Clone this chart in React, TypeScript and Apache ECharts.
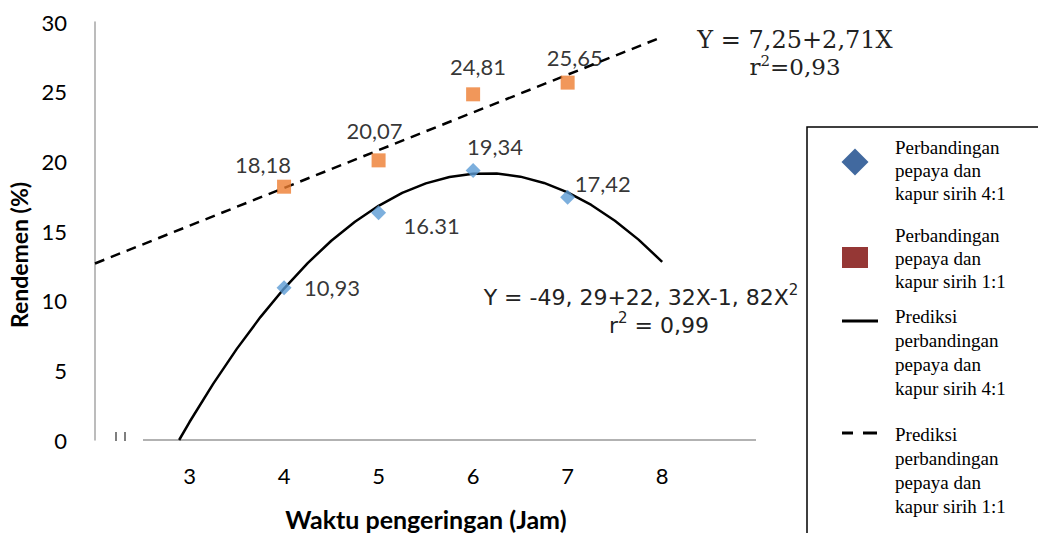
import React, { useEffect, useRef } from "react";
import * as echarts from "echarts";

// Observed data (Waktu pengeringan in hours vs Rendemen %)
const xValues = [4, 5, 6, 7];
const seriesA = [10.93, 16.31, 19.34, 17.42]; // pepaya : kapur sirih 4:1
const seriesB = [18.18, 20.07, 24.81, 25.65]; // pepaya : kapur sirih 1:1
const labelsA = ["10,93", "16.31", "19,34", "17,42"];
const labelsB = ["18,18", "20,07", "24,81", "25,65"];

// Prediction curves
const curveX = [2.89, 3, 3.25, 3.5, 3.75, 4, 4.25, 4.5, 4.75, 5, 5.25, 5.5, 5.75, 6, 6.25, 6.5, 6.75, 7, 7.25, 7.5, 7.75, 8];
const curveY = [0, 1.29, 4.03, 6.54, 8.82, 10.87, 12.7, 14.3, 15.67, 16.81, 17.73, 18.42, 18.88, 19.11, 19.12, 18.9, 18.45, 17.77, 16.87, 15.74, 14.38, 12.79];
const lineX = [2, 8];
const lineY = [12.67, 28.93];

// Tick labels
const xTickLabels = ["3", "4", "5", "6", "7", "8"];
const yTickLabels = ["0", "5", "10", "15", "20", "25", "30"];

// Label offsets (styling, relative to each marker centre)
const offsetsA = [[48, 0], [53, 13], [22, -24], [35, -14]];
const offsetsB = [[-21, -22], [-4, -30], [5, -28], [7, -25]];

const SANS = "Lato, 'Open Sans', sans-serif";
const SERIF = "'Liberation Serif', 'Times New Roman', serif";

export default function App() {
  const ref = useRef<HTMLDivElement>(null);

  useEffect(() => {
    if (!ref.current) return;
    const chart = echarts.init(ref.current, undefined, { renderer: "svg" });

    const dataA = xValues.map((x, i) => ({
      value: [x, seriesA[i]],
      label: { offset: offsetsA[i], formatter: labelsA[i] },
    }));
    const dataB = xValues.map((x, i) => ({
      value: [x, seriesB[i]],
      label: { offset: offsetsB[i], formatter: labelsB[i] },
    }));

    const legendText = (x: number, y: number, lines: string[], gap: number) =>
      lines.map((t, i) => ({
        type: "text",
        x,
        y: y + i * gap,
        z: 2,
        style: {
          text: t,
          fill: "#000",
          font: `19px ${SERIF}`,
          verticalAlign: "middle",
          align: "left",
        },
        silent: true,
      }));

    const option: any = {
      animation: false,
      backgroundColor: "#fff",
      grid: { left: 95, right: 281.3, top: 22, bottom: 93, containLabel: false, outerBoundsMode: "none" },
      xAxis: {
        type: "value",
        min: 2,
        max: 9,
        interval: 1,
        axisLine: { show: false },
        axisTick: { show: false },
        splitLine: { show: false },
        axisLabel: {
          margin: 24,
          color: "#000",
          fontFamily: SANS,
          fontSize: 22,
          formatter: (v: number) => (xTickLabels.includes(String(v)) ? String(v) : ""),
        },
        name: "Waktu pengeringan (Jam)",
        nameLocation: "middle",
        nameGap: 66,
        nameTextStyle: { color: "#000", fontFamily: SANS, fontSize: 25, fontWeight: "bold" },
      },
      yAxis: {
        type: "value",
        min: 0,
        max: 30,
        interval: 5,
        axisLine: { show: true, lineStyle: { color: "#a6a6a6", width: 1.5 } },
        axisTick: { show: false },
        splitLine: { show: false },
        axisLabel: {
          margin: 28,
          color: "#000",
          fontFamily: SANS,
          fontSize: 22,
          formatter: (v: number) => (yTickLabels.includes(String(v)) ? String(v) : ""),
        },
        name: "Rendemen (%)",
        nameLocation: "middle",
        nameGap: 64,
        nameTextStyle: { color: "#000", fontFamily: SANS, fontSize: 23, fontWeight: "bold", padding: [0, 0, 0, -48] },
      },
      series: [
        {
          name: "Prediksi 1:1",
          type: "line",
          data: lineX.map((x, i) => [x, lineY[i]]),
          showSymbol: false,
          lineStyle: { color: "#000", width: 2.5, type: [10, 7] },
          silent: true,
          z: 2,
        },
        {
          name: "Prediksi 4:1",
          type: "line",
          data: curveX.map((x, i) => [x, curveY[i]]),
          showSymbol: false,
          lineStyle: { color: "#000", width: 2.5 },
          silent: true,
          z: 2,
        },
        {
          name: "Perbandingan pepaya dan kapur sirih 4:1",
          type: "scatter",
          symbol: "diamond",
          symbolSize: 15,
          itemStyle: { color: "#5b9bd5" },
          data: dataA,
          label: {
            show: true,
            position: "inside",
            color: "#000",
            fontFamily: SANS,
            fontSize: 22,
          },
          z: 3,
        },
        {
          name: "Perbandingan pepaya dan kapur sirih 1:1",
          type: "scatter",
          symbol: "rect",
          symbolSize: 14,
          itemStyle: { color: "#ed7d31" },
          data: dataB,
          label: {
            show: true,
            position: "inside",
            color: "#000",
            fontFamily: SANS,
            fontSize: 22,
          },
          z: 3,
        },
      ],
      graphic: [
        // x axis line (broken near origin)
        { type: "line", shape: { x1: 143, y1: 440, x2: 756, y2: 440 }, style: { stroke: "#999", lineWidth: 1.5 }, silent: true },
        { type: "line", shape: { x1: 116, y1: 432, x2: 116, y2: 441 }, style: { stroke: "#555", lineWidth: 1.5 }, silent: true },
        { type: "line", shape: { x1: 125, y1: 432, x2: 125, y2: 441 }, style: { stroke: "#555", lineWidth: 1.5 }, silent: true },
        // equations
        {
          type: "text",
          x: 795,
          y: 40,
          style: { text: "Y = 7,25+2,71X", font: "24px 'DejaVu Serif', serif", fill: "#222", align: "center", verticalAlign: "middle" },
          silent: true,
        },
        {
          type: "text",
          x: 795,
          y: 67,
          style: {
            text: "{a|r}{s|2}{a|=0,93}",
            align: "center",
            verticalAlign: "middle",
            rich: {
              a: { font: "23px 'DejaVu Serif', serif", fill: "#222" },
              s: { font: "15px 'DejaVu Serif', serif", fill: "#222", padding: [0, 0, 12, 0] },
            },
          },
          silent: true,
        },
        {
          type: "text",
          x: 641,
          y: 297,
          style: {
            text: "{a|Y = -49, 29+22, 32X-1, 82X}{s|2}",
            align: "center",
            verticalAlign: "middle",
            rich: {
              a: { font: "22px 'DejaVu Sans', sans-serif", fill: "#222" },
              s: { font: "15px 'DejaVu Sans', sans-serif", fill: "#222", padding: [0, 0, 14, 0] },
            },
          },
          silent: true,
        },
        {
          type: "text",
          x: 659,
          y: 325,
          style: {
            text: "{a|r}{s|2}{a| = 0,99}",
            align: "center",
            verticalAlign: "middle",
            rich: {
              a: { font: "22px 'DejaVu Sans', sans-serif", fill: "#222" },
              s: { font: "15px 'DejaVu Sans', sans-serif", fill: "#222", padding: [0, 0, 14, 0] },
            },
          },
          silent: true,
        },
        // legend frame
        { type: "rect", shape: { x: 807, y: 127, width: 400, height: 500 }, style: { fill: "#fff", stroke: "#000", lineWidth: 1.5 }, silent: true, z: 1 },
        // legend symbols
        { type: "polygon", shape: { points: [[855, 148.5], [868.5, 162], [855, 175.5], [841.5, 162]] }, style: { fill: "#41699f" }, silent: true, z: 2 },
        { type: "rect", shape: { x: 842, y: 247, width: 26, height: 21 }, style: { fill: "#953735" }, silent: true, z: 2 },
        { type: "line", shape: { x1: 842, y1: 321, x2: 878, y2: 321 }, style: { stroke: "#000", lineWidth: 3 }, silent: true, z: 2 },
        { type: "line", shape: { x1: 842, y1: 433, x2: 853, y2: 433 }, style: { stroke: "#000", lineWidth: 3 }, silent: true, z: 2 },
        { type: "line", shape: { x1: 863, y1: 433, x2: 877, y2: 433 }, style: { stroke: "#000", lineWidth: 3 }, silent: true, z: 2 },
        ...legendText(895, 147, ["Perbandingan", "pepaya dan", "kapur sirih 4:1"], 23),
        ...legendText(895, 235, ["Perbandingan", "pepaya dan", "kapur sirih 1:1"], 23),
        ...legendText(895, 316, ["Prediksi", "perbandingan", "pepaya dan", "kapur sirih 4:1"], 24),
        ...legendText(895, 434, ["Prediksi", "perbandingan", "pepaya dan", "kapur sirih 1:1"], 24),
      ],
    };

    chart.setOption(option);
    return () => chart.dispose();
  }, []);

  return (
    <div
      ref={ref}
      style={{ position: "absolute", left: 0, top: 0, width: 1038, height: 533 }}
    />
  );
}
